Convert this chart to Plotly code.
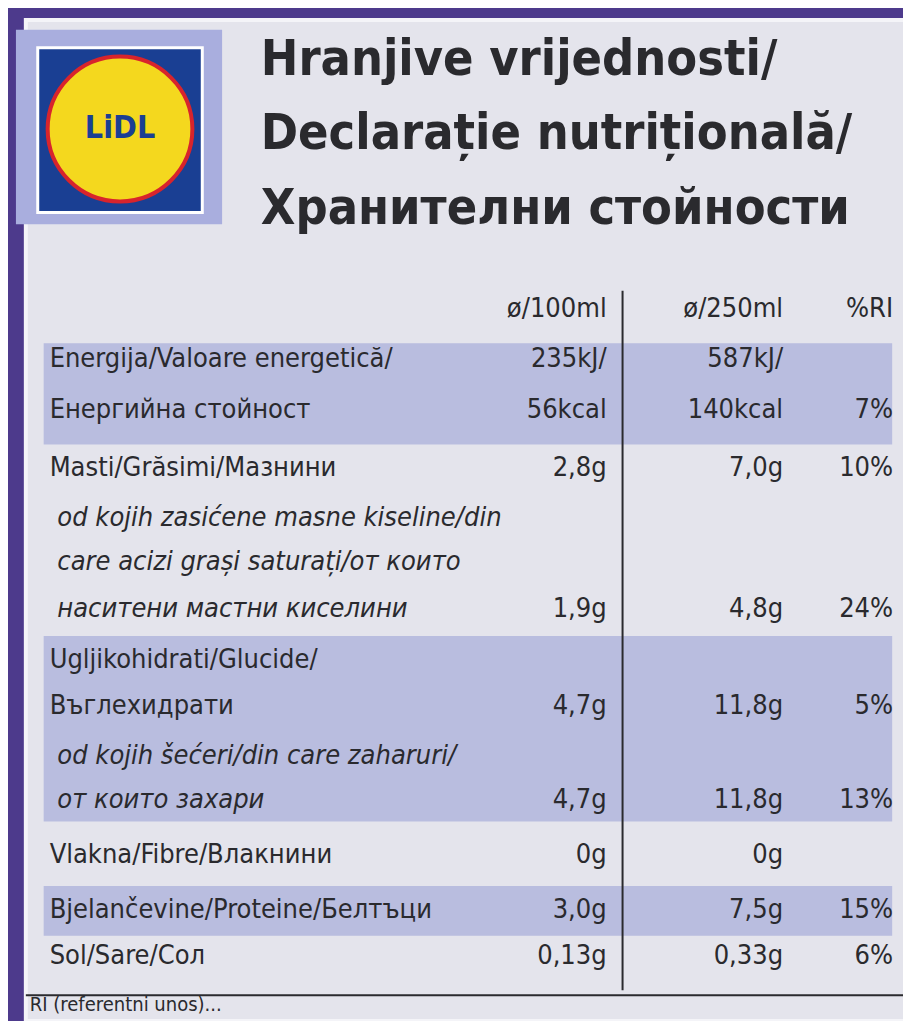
import plotly.graph_objects as go

# ---- data ----
title_lines = ["Hranjive vrijednosti/", "Declarație nutrițională/", "Хранителни стойности"]
col_heads = ["ø/100ml", "ø/250ml", "%RI"]

# each text line: label, italic flag, per 100ml, per 250ml, %RI
lines_label = [
    "Energija/Valoare energetică/", "Енергийна стойност",
    "Masti/Grăsimi/Мазнини",
    " od kojih zasićene masne kiseline/din", " care acizi grași saturați/от които", " наситени мастни киселини",
    "Ugljikohidrati/Glucide/", "Въглехидрати",
    " od kojih šećeri/din care zaharuri/", " от които захари",
    "Vlakna/Fibre/Влакнини",
    "Bjelančevine/Proteine/Белтъци",
    "Sol/Sare/Сол",
]
lines_italic = [0, 0, 0, 1, 1, 1, 0, 0, 1, 1, 0, 0, 0]
per100 = ["235kJ/", "56kcal", "2,8g", "", "", "1,9g", "", "4,7g", "", "4,7g", "0g", "3,0g", "0,13g"]
per250 = ["587kJ/", "140kcal", "7,0g", "", "", "4,8g", "", "11,8g", "", "11,8g", "0g", "7,5g", "0,33g"]
ri_pct = ["", "7%", "10%", "", "", "24%", "", "5%", "", "13%", "", "15%", "6%"]
footer = "RI (referentni unos)..."

# ---- layout positions (pixels) ----
line_y = [355, 406, 465, 515, 560, 607, 658, 705, 755, 800, 855, 910, 957]
bands = [(338, 440), (633, 820), (885, 935)]
x_label, x_c1, x_c2, x_c3 = 42, 604, 782, 893

FONT = "Liberation Sans Narrow, DejaVu Sans Condensed, Arial Narrow, sans-serif"
BG = "#e4e4ec"
BAND = "#b9bddf"
INK = "#2a2a2e"

fig = go.Figure()


def txt(x, y, s, pos, size=27, italic=False, bold=False, color=INK):
    if italic:
        s = "<i>" + s + "</i>"
    if bold:
        s = "<b>" + s + "</b>"
    fig.add_trace(go.Scatter(x=[x], y=[y], mode="text", text=[s], textposition=pos,
                             textfont=dict(family=FONT, size=size, color=color),
                             hoverinfo="skip", showlegend=False))


shapes = []
# purple frame
shapes.append(dict(type="rect", x0=0, x1=911, y0=0, y1=1021, fillcolor="#4d3a8c", line_width=0, layer="below"))
shapes.append(dict(type="rect", x0=18, x1=905, y0=12, y1=1021, fillcolor=BG, line=dict(color="#f4f4f8", width=4), layer="below"))
for y0, y1 in bands:
    shapes.append(dict(type="rect", x0=36, x1=892, y0=y0, y1=y1, fillcolor=BAND, line_width=0, layer="below"))
# divider lines
shapes.append(dict(type="line", x0=620, x1=620, y0=285, y1=990, line=dict(color=INK, width=2), layer="below"))
shapes.append(dict(type="line", x0=18, x1=905, y0=995, y1=995, line=dict(color=INK, width=2), layer="below"))
# logo
shapes.append(dict(type="rect", x0=8, x1=216, y0=22, y1=218, fillcolor="#a9aede", line_width=0, layer="below"))
shapes.append(dict(type="rect", x0=30, x1=196, y0=40, y1=206, fillcolor="#1a3f93", line=dict(color="white", width=3), layer="below"))
shapes.append(dict(type="circle", x0=40, x1=186, y0=49, y1=195, fillcolor="#f4d81e", line=dict(color="#d8242c", width=4), layer="below"))

txt(113, 123, "<b>LiDL</b>", "middle center", size=32, color="#1a3f93")

for i, t in enumerate(title_lines):
    txt(255, 55 + i * 75, t, "middle right", size=50, bold=True)

for x, h in zip([x_c1, x_c2, x_c3], col_heads):
    txt(x, 305, h, "middle left")

for i in range(len(lines_label)):
    y = line_y[i]
    txt(x_label, y, lines_label[i], "middle right", italic=bool(lines_italic[i]))
    for x, v in ((x_c1, per100[i]), (x_c2, per250[i]), (x_c3, ri_pct[i])):
        if v:
            txt(x, y, v, "middle left")

txt(22, 1006, footer, "middle right", size=20)

fig.update_layout(
    width=903, height=1013, margin=dict(l=0, r=0, t=0, b=0),
    plot_bgcolor=BG, paper_bgcolor=BG, shapes=shapes,
    xaxis=dict(range=[0, 911], visible=False, fixedrange=True),
    yaxis=dict(range=[1021, 0], visible=False, fixedrange=True),
)
fig.write_html("out.html")
